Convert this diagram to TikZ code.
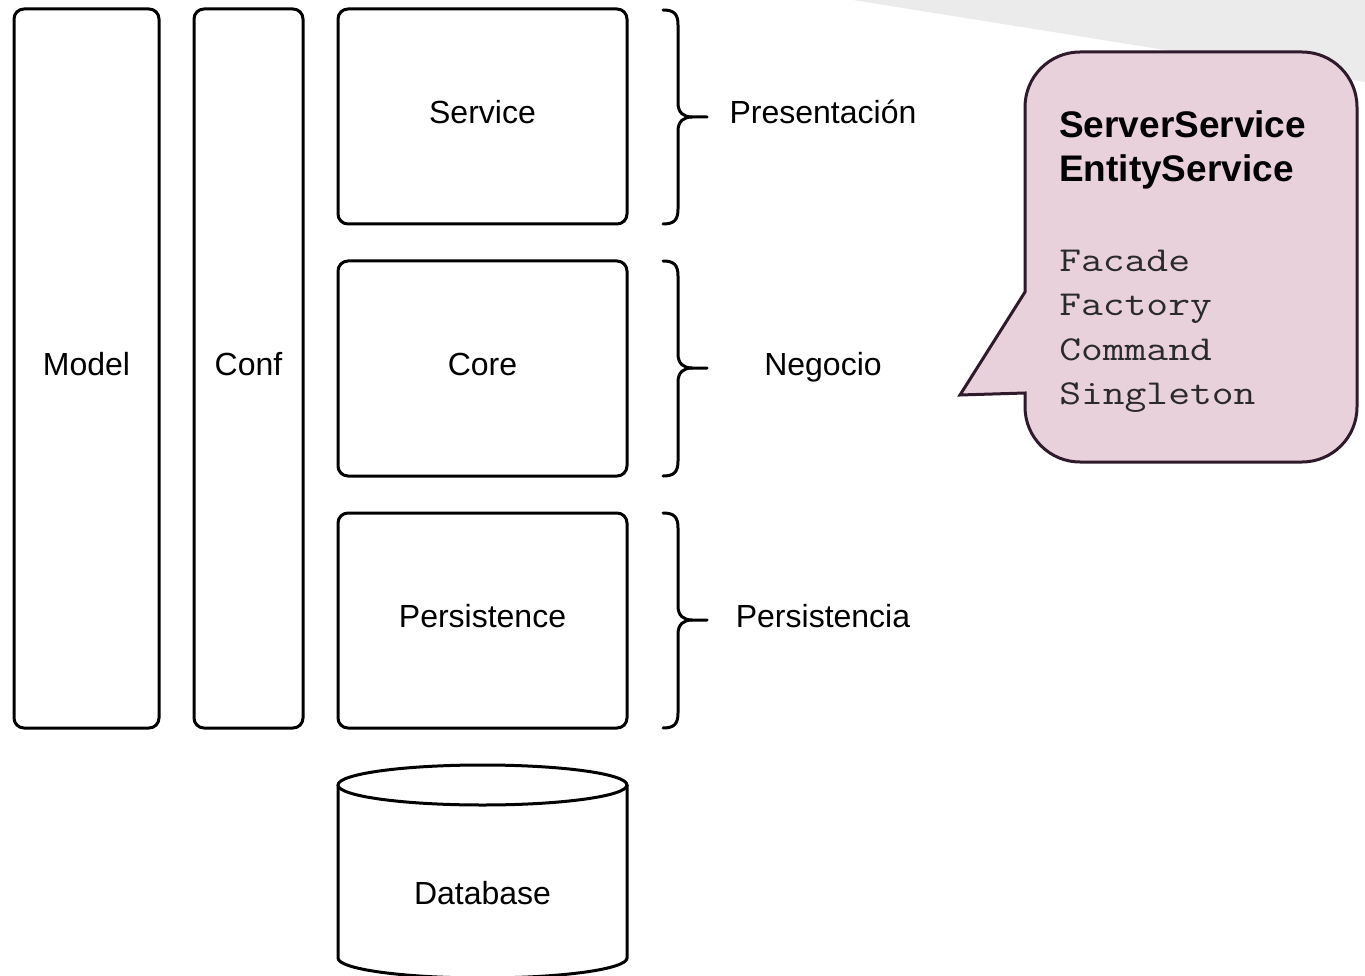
\documentclass[tikz,border=0pt]{standalone}
\usepackage{fontspec}
\setmainfont{Liberation Sans}
\setmonofont{Liberation Mono}
\newfontfamily\lmregmono{Latin Modern Mono}
\definecolor{calloutfill}{HTML}{E9D1DC}
\definecolor{calloutline}{HTML}{2E1A2B}
\definecolor{bggray}{HTML}{EBEBEB}
\definecolor{monogray}{HTML}{2A2A2A}
\begin{document}
\begin{tikzpicture}[x=1pt,y=1pt,
  layerbox/.style={draw, line width=3pt, rounded corners=10pt, inner sep=0pt,
    font=\fontsize{32}{38}\selectfont, text depth=9pt},
  bracestyle/.style={line width=3pt, line cap=round},
  lbl/.style={font=\fontsize{32}{38}\selectfont, anchor=base, inner sep=0pt},
  boldtxt/.style={font=\fontsize{37}{44}\selectfont\bfseries, anchor=base west, inner sep=0pt},
  monotxt/.style={font=\fontsize{35}{44}\selectfont\lmregmono, text=monogray, anchor=base west, inner sep=0pt, xscale=1.21, transform shape}]
\useasboundingbox (0,0) rectangle (1365,-976);
% grey background wedge
\fill[bggray] (853,0) -- (1365,0) -- (1365,-82) -- cycle;
% vertical boxes
\node[layerbox, minimum width=145pt, minimum height=719pt] (model) at (86.5,-368.5) {Model};
\node[layerbox, minimum width=109pt, minimum height=719pt] (conf) at (248.5,-368.5) {Conf};
% layer boxes
\node[layerbox, minimum width=289pt, minimum height=215pt] (service) at (482.5,-116.5) {Service};
\node[layerbox, minimum width=289pt, minimum height=215pt] (core) at (482.5,-368.5) {Core};
\node[layerbox, minimum width=289pt, minimum height=215pt] (persist) at (482.5,-620.5) {Persistence};
% database cylinder
\draw[line width=3pt] (338,-785) -- (338,-958) arc[start angle=180,end angle=360,x radius=144.5pt,y radius=20pt] -- (627,-785);
\draw[line width=3pt] (482.5,-785) ellipse[x radius=144.5pt, y radius=20pt];
\node[lbl] (db) at (482.5,-904.5) {Database};
% braces
\foreach \ya/\yb/\ym in {10/224/117, 261/476/368, 513/728/620}{
  \draw[bracestyle] (663,-\ya) .. controls (674,-\ya) and (678,-\ya-4) .. (678,-\ya-15)
    -- (678,-\ym+14) .. controls (678,-\ym+4) and (684,-\ym) .. (692,-\ym) -- (707,-\ym);
  \draw[bracestyle] (692,-\ym) .. controls (684,-\ym) and (678,-\ym-4) .. (678,-\ym-14)
    -- (678,-\yb+15) .. controls (678,-\yb+4) and (674,-\yb) .. (663,-\yb);
}
% layer labels
\node[lbl] (lpres) at (823,-123.5) {Presentación};
\node[lbl] (lneg) at (823,-375.5) {Negocio};
\node[lbl] (lpers) at (823,-627.5) {Persistencia};
% callout
\draw[calloutline, fill=calloutfill, line width=3pt, line join=miter]
  (1025,-292) -- (1025,-107) arc[start angle=180,end angle=90,radius=55pt]
  -- (1302,-52) arc[start angle=90,end angle=0,radius=55pt]
  -- (1357,-407) arc[start angle=0,end angle=-90,radius=55pt]
  -- (1080,-462) arc[start angle=270,end angle=180,radius=55pt]
  -- (1025,-393) -- (960,-395) -- cycle;
\node[boldtxt] (t1) at (1059,-138) {ServerService};
\node[boldtxt] (t2) at (1059,-182) {EntityService};
\node[monotxt] (m1) at (1059,-272) {Facade};
\node[monotxt] (m2) at (1059,-316) {Factory};
\node[monotxt] (m3) at (1059,-360) {Command};
\node[monotxt] (m4) at (1059,-404) {Singleton};
\end{tikzpicture}
\end{document}
